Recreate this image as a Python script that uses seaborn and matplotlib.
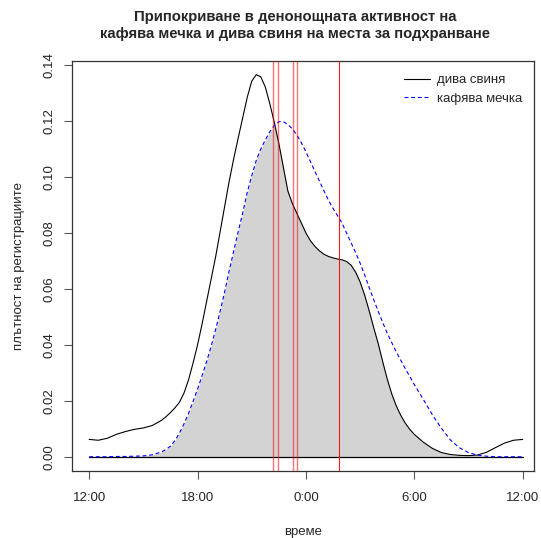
import numpy as np
import pandas as pd
import matplotlib
matplotlib.use("Agg")
import matplotlib.pyplot as plt
import seaborn as sns
from matplotlib.lines import Line2D

# hours after 12:00 (0 = 12:00, 12 = 0:00, 24 = 12:00)
hours = [0, 0.5, 1, 1.5, 2, 2.5, 3, 3.5,
         4, 4.25, 4.5, 4.75, 5, 5.25, 5.5, 5.75, 6, 6.25, 6.5, 6.75,
         7, 7.25, 7.5, 7.75, 8, 8.25, 8.5, 8.75, 9, 9.25, 9.5, 9.75,
         10, 10.25, 10.5, 10.75, 11, 11.25, 11.5, 11.75, 12, 12.25, 12.5, 12.75,
         13, 13.25, 13.5, 13.75, 14, 14.25, 14.5, 14.75, 15, 15.25, 15.5, 15.75,
         16, 16.25, 16.5, 16.75, 17, 17.25, 17.5, 17.75, 18,
         18.5, 19, 19.5, 20, 20.5, 21, 21.5, 22, 22.5, 23, 23.5, 24]
boar = [0.0062, 0.0059, 0.0066, 0.0080, 0.0090, 0.0098, 0.0103, 0.0112,
        0.0130, 0.0143, 0.0158, 0.0175, 0.0195, 0.0228, 0.0275, 0.0335, 0.0400, 0.0475, 0.0555, 0.0635,
        0.0715, 0.0805, 0.0895, 0.0985, 0.1065, 0.1140, 0.1212, 0.1285, 0.1343, 0.1366, 0.1358, 0.1322,
        0.1262, 0.1195, 0.1120, 0.1035, 0.0950, 0.0905, 0.0870, 0.0835, 0.0800, 0.0772, 0.0752, 0.0736,
        0.0724, 0.0716, 0.0711, 0.0707, 0.0704, 0.0698, 0.0685, 0.0660, 0.0625, 0.0578, 0.0522, 0.0462,
        0.0405, 0.0340, 0.0278, 0.0225, 0.0182, 0.0148, 0.0120, 0.0098, 0.0080,
        0.0052, 0.0030, 0.0015, 0.0008, 0.0005, 0.0004, 0.0006, 0.0016, 0.0033, 0.0049, 0.0059, 0.0062]
bear = [0.0, 0.0, 0.0, 0.0001, 0.0001, 0.0002, 0.0003, 0.0007,
        0.0017, 0.0026, 0.0038, 0.0058, 0.0085, 0.0118, 0.0155, 0.0198, 0.0242, 0.0290, 0.0340, 0.0395,
        0.0455, 0.0520, 0.0590, 0.0665, 0.0735, 0.0805, 0.0872, 0.0945, 0.1005, 0.1060, 0.1100, 0.1133,
        0.1162, 0.1185, 0.1198, 0.1198, 0.1188, 0.1172, 0.1150, 0.1122, 0.1090, 0.1055, 0.1020, 0.0985,
        0.0950, 0.0917, 0.0888, 0.0862, 0.0835, 0.0800, 0.0765, 0.0730, 0.0692, 0.0650, 0.0605, 0.0562,
        0.0520, 0.0480, 0.0442, 0.0408, 0.0375, 0.0345, 0.0315, 0.0287, 0.0258,
        0.0205, 0.0150, 0.0102, 0.0060, 0.0032, 0.0015, 0.0006, 0.0002, 0.0, 0.0, 0.0, 0.0]
red_lines = [10.18, 10.43, 11.29, 11.48]
red_line_solid = [13.84]
tick_pos = [0, 6, 12, 18, 24]
tick_labels = ["12:00", "18:00", "0:00", "6:00", "12:00"]
ytick_pos = [0.00, 0.02, 0.04, 0.06, 0.08, 0.10, 0.12, 0.14]
series_names = ["дива свиня", "кафява мечка"]

df = pd.DataFrame({
    "hour": hours * 2,
    "density": boar + bear,
    "species": [series_names[0]] * len(hours) + [series_names[1]] * len(hours),
})

sns.set_theme(style="white")
plt.rcParams['font.family'] = ['Liberation Sans', 'DejaVu Sans']

fig = plt.figure(figsize=(5.41, 5.38), dpi=100)
ax = fig.add_axes([0.1325, 0.1245, 0.855, 0.7627])

ax.fill_between(hours, 0, np.minimum(boar, bear), color="#D3D3D3", lw=0, zorder=1)
ax.plot([0, 24], [0, 0], color="black", lw=0.9, zorder=2)

sns.lineplot(data=df, x="hour", y="density", hue="species", style="species",
             palette={series_names[0]: "black", series_names[1]: "blue"},
             dashes={series_names[0]: "", series_names[1]: (3.5, 2.5)},
             linewidth=0.8, ax=ax, zorder=3, legend=False)

for h in red_lines:
    ax.axvline(h, color="red", lw=1.0, alpha=0.55, zorder=4)
for h in red_line_solid:
    ax.axvline(h, color="red", lw=0.8, alpha=0.9, zorder=4)

ax.set_xlim(-0.97, 24.64)
ax.set_ylim(-0.0051, 0.1416)
ax.set_xticks(tick_pos)
ax.set_xticklabels(tick_labels)
ax.set_yticks(ytick_pos)
ax.set_yticklabels([f"{v:.2f}" for v in ytick_pos], rotation=90, va="center")
ax.tick_params(axis="x", direction="out", length=6, width=0.8, color="#555555",
               labelsize=9.5, bottom=True, pad=9)
ax.tick_params(axis="y", direction="out", length=6, width=0.8, color="#555555",
               labelsize=9.5, left=True, pad=6)
for s in ax.spines.values():
    s.set_visible(True)
    s.set_color("#333333")
    s.set_linewidth(0.9)

ax.set_xlabel("време", fontsize=9.5, labelpad=16)
ax.set_ylabel("плътност на регистрациите", fontsize=9.5, labelpad=13)

fig.text(0.546, 0.982, "Припокриване в денонощната активност на\nкафява мечка и дива свиня на места за подхранване",
         ha="center", va="top", fontsize=10.7, fontweight="bold", linespacing=1.3)

handles = [Line2D([], [], color="black", lw=0.8),
           Line2D([], [], color="blue", lw=0.8, ls=(0, (3.5, 2.5)))]
ax.legend(handles, series_names, loc="upper right", frameon=False, fontsize=9.5,
          handlelength=1.9, handletextpad=0.6, bbox_to_anchor=(0.995, 0.99),
          borderaxespad=0.3, labelspacing=0.5)

fig.savefig("out.png", dpi=100)
